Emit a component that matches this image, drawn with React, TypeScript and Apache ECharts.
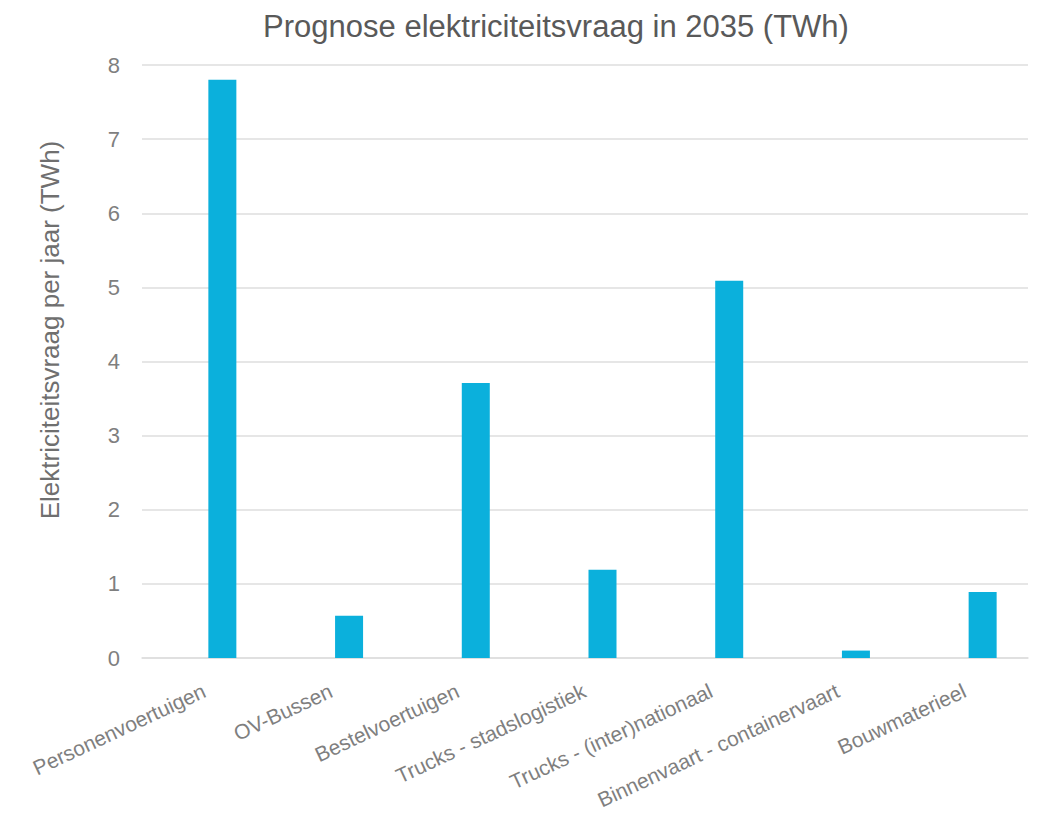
import React, { useEffect, useRef } from "react";
import * as echarts from "echarts";

const categories = [
  "Personenvoertuigen",
  "OV-Bussen",
  "Bestelvoertuigen",
  "Trucks - stadslogistiek",
  "Trucks - (inter)nationaal",
  "Binnenvaart - containervaart",
  "Bouwmaterieel",
];
const values = [7.8, 0.57, 3.71, 1.19, 5.09, 0.1, 0.89];
const yTicks = [0, 1, 2, 3, 4, 5, 6, 7, 8];

const FONT = "'Liberation Sans', Arial, sans-serif";

export default function App() {
  const ref = useRef<HTMLDivElement>(null);
  useEffect(() => {
    document.body.style.margin = "0";
    const chart = echarts.init(ref.current!, null, { renderer: "svg" });
    const yMin = yTicks[0];
    const yMax = yTicks[yTicks.length - 1];
    chart.setOption({
      animation: false,
      backgroundColor: "#ffffff",
      title: {
        text: "Prognose elektriciteitsvraag in 2035 (TWh)",
        left: 551,
        top: 6,
        textAlign: "center",
        textStyle: { fontFamily: FONT, fontSize: 31, fontWeight: "normal", color: "#595959" },
      },
      graphic: [
        {
          type: "text",
          x: 50,
          y: 330,
          rotation: Math.PI / 2,
          style: {
            text: "Elektriciteitsvraag per jaar (TWh)",
            fontFamily: FONT,
            fontSize: 26,
            fill: "#6f6f6f",
            align: "center",
            verticalAlign: "middle",
          },
        },
      ],
      grid: [
        { left: 142, right: 12, top: 65, bottom: 157, outerBoundsMode: "none", containLabel: false },
        { left: 159, right: -6, top: 65, bottom: 157, outerBoundsMode: "none", containLabel: false },
      ],
      xAxis: [
        {
          type: "category",
          gridIndex: 0,
          data: categories,
          axisLine: { show: true, lineStyle: { color: "#dedede", width: 1.5 } },
          axisTick: { show: false },
          axisLabel: { show: false },
        },
        {
          type: "category",
          gridIndex: 1,
          data: categories,
          axisLine: { show: false },
          axisTick: { show: false },
          axisLabel: {
            rotate: 25,
            interval: 0,
            margin: 23,
            padding: [0, 20, 0, 0],
            fontFamily: FONT,
            fontSize: 21,
            color: "#7f7f7f",
          },
        },
      ],
      yAxis: [
        {
          type: "value",
          gridIndex: 0,
          min: yMin,
          max: yMax,
          interval: 1,
          axisLine: { show: false },
          axisTick: { show: false },
          splitLine: { lineStyle: { color: "#dedede", width: 1.5 } },
          axisLabel: {
            margin: 22,
            fontFamily: FONT,
            fontSize: 22,
            color: "#7f7f7f",
          },
        },
        {
          type: "value",
          gridIndex: 1,
          min: yMin,
          max: yMax,
          interval: 1,
          show: false,
          splitLine: { show: false },
        },
      ],
      series: [
        {
          type: "bar",
          xAxisIndex: 1,
          yAxisIndex: 1,
          data: values,
          barWidth: 28,
          itemStyle: { color: "#0bb0dc" },
        },
      ],
    });
    return () => chart.dispose();
  }, []);
  return <div ref={ref} style={{ width: 1040, height: 815 }} />;
}
